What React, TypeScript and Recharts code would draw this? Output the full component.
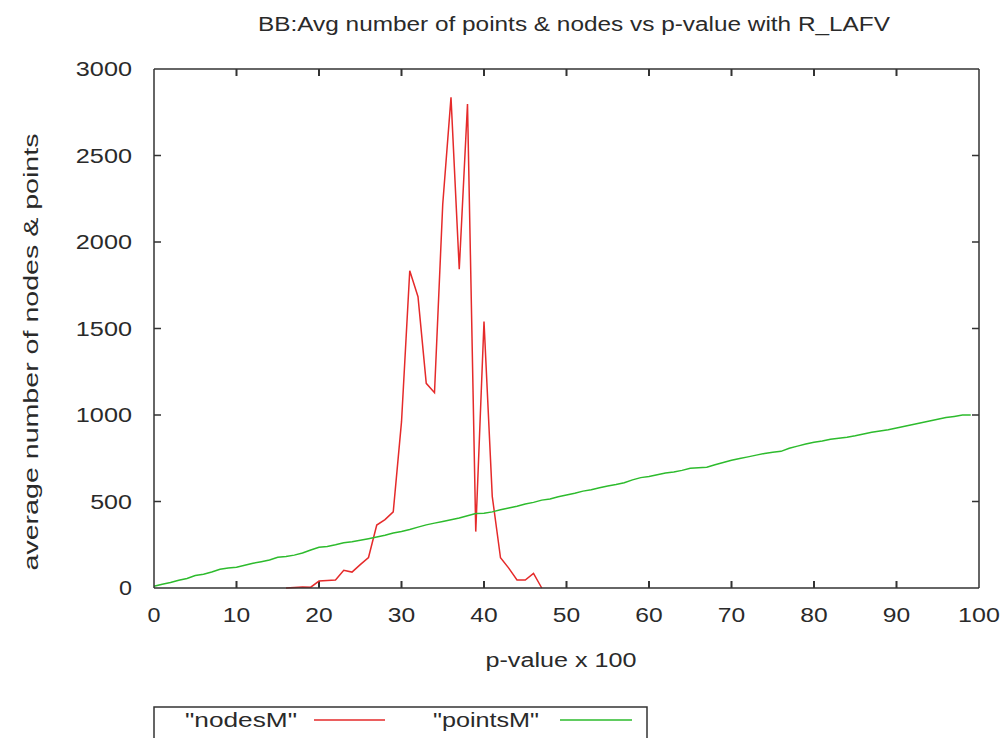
import { Customized, Line, LineChart, ReferenceLine, XAxis, YAxis } from "recharts";

const pValues: number[] = Array.from({ length: 100 }, (_, i) => i);

const pointsM: number[] = [
  10, 22, 32, 45, 55, 72, 80, 92, 108, 115,
  120, 132, 143, 152, 162, 178, 182, 190, 202, 220,
  236, 240, 250, 262, 268, 276, 285, 295, 305, 318,
  327, 338, 352, 365, 375, 385, 395, 405, 418, 430,
  432, 440, 452, 462, 472, 485, 495, 508, 515, 528,
  538, 548, 560, 568, 580, 590, 598, 608, 625, 638,
  645, 655, 665, 670, 680, 692, 695, 698, 712, 725,
  738, 748, 758, 768, 778, 785, 790, 808, 820, 832,
  842, 850, 860, 866, 872, 880, 890, 900, 908, 915,
  925, 935, 945, 955, 965, 975, 985, 992, 1000, 1000,
];

// nodesM only exists between p = 16 and p = 47
const nodesStart = 16;
const nodesM: number[] = [
  0, 3, 6, 5, 40, 44, 46, 102, 92, 135,
  176, 364, 395, 440, 960, 1834, 1684, 1183, 1129, 2220,
  2836, 1842, 2798, 326, 1540, 530, 175, 115, 46, 46,
  85, 0,
];

const xTicks = [0, 10, 20, 30, 40, 50, 60, 70, 80, 90, 100];
const yTicks = [0, 500, 1000, 1500, 2000, 2500, 3000];

const titleText = "BB:Avg number of points & nodes vs p-value with R_LAFV";
const xLabel = "p-value x 100";
const yLabel = "average number of nodes & points";

const data = pValues.map((p, i) => {
  const k = p - nodesStart;
  return {
    p,
    pointsM: pointsM[i],
    nodesM: k >= 0 && k < nodesM.length ? nodesM[k] : null,
  };
});

const AXIS = "#333";
const TEXT = "#2a2a2a";
const RED = "#e52a2a";
const GREEN = "#2dbb2d";
const FONT = "'Liberation Sans', Arial, sans-serif";
const DIGIT = 14.4;

// plot box is 825 x 519; reference lines are dashed so only short
// inward tick stubs show at both ends (gnuplot style mirrored ticks)
const PLOT_W = 825;
const PLOT_H = 519;
const STUB = 7;

const BottomTick = (props: any) => {
  const { x, y, payload } = props;
  const label = String(payload.value);
  return (
    <text
      x={x}
      y={y + 34}
      textAnchor="middle"
      fontSize={19.5}
      fontFamily={FONT}
      fill={TEXT}
      textLength={label.length * DIGIT - 1.4}
      lengthAdjust="spacingAndGlyphs"
    >
      {label}
    </text>
  );
};

const LeftTick = (props: any) => {
  const { x, y, payload } = props;
  const label = String(payload.value);
  return (
    <text
      x={x - 22}
      y={y + 7}
      textAnchor="end"
      fontSize={19.5}
      fontFamily={FONT}
      fill={TEXT}
      textLength={label.length * DIGIT - 1.4}
      lengthAdjust="spacingAndGlyphs"
    >
      {label}
    </text>
  );
};

const Decorations = () => (
  <g fontFamily={FONT} fill={TEXT}>
    <text x={574} y={31} textAnchor="middle" fontSize={20} textLength={632} lengthAdjust="spacingAndGlyphs">
      {titleText}
    </text>
    <text x={561} y={667} textAnchor="middle" fontSize={19.5} textLength={151} lengthAdjust="spacingAndGlyphs">
      {xLabel}
    </text>
    <text
      x={0}
      y={0}
      transform="translate(38 352) rotate(-90)"
      textAnchor="middle"
      fontSize={20.5}
      textLength={437}
      lengthAdjust="spacingAndGlyphs"
    >
      {yLabel}
    </text>
    <rect x={154} y={707} width={493} height={40} fill="none" stroke={AXIS} strokeWidth={1.5} />
    <text x={241} y={727} textAnchor="middle" fontSize={20} textLength={112} lengthAdjust="spacingAndGlyphs">
      "nodesM"
    </text>
    <line x1={314} y1={720} x2={385} y2={720} stroke={RED} strokeWidth={1.5} />
    <text x={486} y={727} textAnchor="middle" fontSize={20} textLength={106} lengthAdjust="spacingAndGlyphs">
      "pointsM"
    </text>
    <line x1={560} y1={720} x2={632} y2={720} stroke={GREEN} strokeWidth={1.5} />
  </g>
);

const axisLine = { stroke: AXIS, strokeWidth: 1.5 };

export default function App() {
  return (
    <div style={{ position: "absolute", left: 0, top: 0, background: "#fff" }}>
      <LineChart
        width={1004}
        height={738}
        data={data}
        margin={{ top: 59, right: 15, bottom: 90, left: 54 }}
      >
        {xTicks.slice(1, -1).map((v) => (
          <ReferenceLine
            key={`x${v}`}
            x={v}
            stroke={AXIS}
            strokeWidth={2}
            strokeDasharray={`${STUB} ${PLOT_H - 2 * STUB} ${STUB} 2000`}
          />
        ))}
        {yTicks.slice(1, -1).map((v) => (
          <ReferenceLine
            key={`y${v}`}
            y={v}
            stroke={AXIS}
            strokeWidth={1.5}
            strokeDasharray={`${STUB} ${PLOT_W - 2 * STUB} ${STUB} 2000`}
          />
        ))}
        <XAxis
          dataKey="p"
          type="number"
          domain={[0, 100]}
          ticks={xTicks}
          height={60}
          tickSize={0}
          tickMargin={0}
          tickLine={false}
          axisLine={axisLine}
          tick={<BottomTick />}
        />
        <XAxis
          xAxisId="top"
          dataKey="p"
          type="number"
          orientation="top"
          domain={[0, 100]}
          ticks={xTicks}
          height={10}
          tick={false}
          tickLine={false}
          axisLine={axisLine}
        />
        <YAxis
          type="number"
          domain={[0, 3000]}
          ticks={yTicks}
          width={100}
          tickSize={0}
          tickMargin={0}
          tickLine={false}
          axisLine={axisLine}
          tick={<LeftTick />}
        />
        <YAxis
          yAxisId="right"
          orientation="right"
          type="number"
          domain={[0, 3000]}
          ticks={yTicks}
          width={10}
          tick={false}
          tickLine={false}
          axisLine={axisLine}
        />
        <Line
          type="linear"
          dataKey="nodesM"
          stroke={RED}
          strokeWidth={1.5}
          dot={false}
          connectNulls={false}
          isAnimationActive={false}
        />
        <Line
          type="linear"
          dataKey="pointsM"
          stroke={GREEN}
          strokeWidth={1.5}
          dot={false}
          isAnimationActive={false}
        />
        <Customized component={Decorations} />
      </LineChart>
    </div>
  );
}
